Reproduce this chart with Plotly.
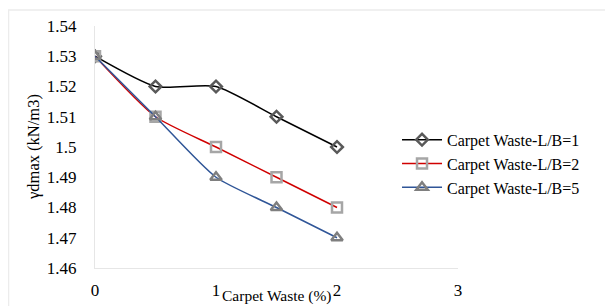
import plotly.graph_objects as go

x_vals = [0, 0.5, 1, 1.5, 2]
s1 = [1.53, 1.52, 1.52, 1.51, 1.50]
s2 = [1.53, 1.51, 1.50, 1.49, 1.48]
s3 = [1.53, 1.51, 1.49, 1.48, 1.47]
names = ["Carpet Waste-L/B=1", "Carpet Waste-L/B=2", "Carpet Waste-L/B=5"]
x_ticks = [0, 1, 2, 3]
y_ticks = [1.46, 1.47, 1.48, 1.49, 1.50, 1.51, 1.52, 1.53, 1.54]
y_labels = ["1.46", "1.47", "1.48", "1.49", "1.5", "1.51", "1.52", "1.53", "1.54"]
x_title = "Carpet Waste (%)"
y_title = "γdmax (kN/m3)"

font = "Liberation Serif, Times New Roman, serif"

fig = go.Figure()
styles = [
    dict(line="#000000", sym="diamond-open", mc="#595959", size=9),
    dict(line="#d00000", sym="square-open", mc="#a6a6a6", size=10),
    dict(line="#2f5597", sym="triangle-up-open", mc="#7f7f7f", size=10),
]
for ys, nm, st in zip([s1, s2, s3], names, styles):
    fig.add_trace(go.Scatter(
        x=x_vals, y=ys, name=nm, mode="lines+markers",
        line=dict(color=st["line"], width=1.5, shape="spline", smoothing=0.6),
        marker=dict(symbol=st["sym"], size=st["size"], color=st["mc"],
                    line=dict(width=2.5, color=st["mc"])),
    ))

W, H = 605, 298
L, T, PW, PH = 87, 18, 363, 242
fig.update_layout(
    width=W, height=H,
    margin=dict(l=L, r=W - L - PW, t=T, b=H - T - PH),
    paper_bgcolor="white", plot_bgcolor="white",
    font=dict(family=font, size=17, color="#000000"),
    showlegend=True,
    legend=dict(x=0.832, y=0.6, xanchor="left", yanchor="top",
                font=dict(family=font, size=16), bgcolor="rgba(0,0,0,0)",
                tracegroupgap=0, itemwidth=40),
    xaxis=dict(range=[0, 3], tickvals=x_ticks, ticktext=[str(t) for t in x_ticks],
               showgrid=False, zeroline=False, showline=True, linecolor="#e6e6e6",
               linewidth=1, ticks="outside", ticklen=7, tickcolor="rgba(0,0,0,0)",
               tickfont=dict(family=font, size=17), automargin=False),
    yaxis=dict(range=[1.46, 1.54], tickvals=y_ticks, ticktext=y_labels,
               showgrid=False, zeroline=False, showline=True, linecolor="#e6e6e6",
               linewidth=1, ticks="outside", ticklen=14, tickcolor="rgba(0,0,0,0)",
               tickfont=dict(family=font, size=17), automargin=False),
    annotations=[
        dict(text=x_title, xref="paper", yref="paper", x=0.5, y=-(H - T - PH) / PH,
             xanchor="center", yanchor="bottom", showarrow=False, borderpad=0,
             font=dict(family=font, size=15.5)),
        dict(text=y_title, xref="paper", yref="paper", x=(25 - L) / PW, y=0.5,
             xanchor="center", yanchor="middle", textangle=-90, showarrow=False,
             font=dict(family=font, size=16.5)),
    ],
    shapes=[dict(type="rect", xref="paper", yref="paper",
                 x0=-(L - 0.5) / PW, x1=(W - L - 1) / PW, y0=-(H - T - PH + 20) / PH,
                 y1=1 + (T - 2) / PH,
                 line=dict(color="#ececec", width=1.5), fillcolor="rgba(0,0,0,0)",
                 layer="below")],
)

fig.write_html("out.html")
